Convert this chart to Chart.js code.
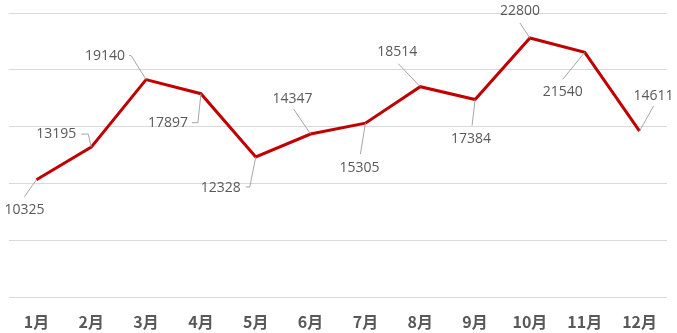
<!DOCTYPE html>
<html>
<head>
<meta charset="utf-8">
<script src="https://cdn.jsdelivr.net/npm/chart.js@4"></script>
<style>
    html, body { margin: 0; padding: 0; background: #fff; }
    #wrap { width: 677px; height: 333px; }
</style>
</head>
<body>
<div id="wrap"><canvas id="grafico"></canvas></div>
<script>
const meses = ['1月', '2月', '3月', '4月', '5月', '6月', '7月', '8月', '9月', '10月', '11月', '12月'];
const ventas = [10325, 13195, 19140, 17897, 12328, 14347, 15305, 18514, 17384, 22800, 21540, 14611];
const escalaY = { min: 0, max: 25000, paso: 5000 };

// posición de cada etiqueta respecto a su punto: [dx, dy, lineaX, lineaY, finX]
const etiquetas = [
    [-12, 30, -12, 17, null],
    [-35, -13, -3, -13, -10],
    [-41, -24, -15, -24, -17],
    [-33, 29, -3, 29, -9],
    [-35, 31, -6, 30, -10],
    [-18, -35, -17, -25, null],
    [-6, 45, -5, 31, null],
    [-23, -35, -22, -23, null],
    [-4, 39, -3, 26, null],
    [-10, -27, -10, -15, null],
    [-22, 40, -22, 27, null],
    [14, -35, 14, -25, null]
];

const pluginEtiquetas = {
    id: 'etiquetas',
    afterDatasetsDraw(chart) {
        const ctx = chart.ctx;
        const meta = chart.getDatasetMeta(0);
        ctx.save();
        ctx.font = '14px "Open Sans"';
        ctx.textAlign = 'center';
        ctx.textBaseline = 'middle';
        meta.data.forEach((p, i) => {
            const [dx, dy, lx, ly, hx] = etiquetas[i];
            ctx.strokeStyle = '#a6a6a6';
            ctx.lineWidth = 1;
            ctx.beginPath();
            ctx.moveTo(p.x, p.y);
            ctx.lineTo(p.x + lx, p.y + ly);
            if (hx !== null) ctx.lineTo(p.x + hx, p.y + ly);
            ctx.stroke();
            ctx.fillStyle = '#595959';
            ctx.fillText(String(ventas[i]), p.x + dx, p.y + dy);
        });
        ctx.restore();
    }
};

new Chart(document.getElementById('grafico').getContext('2d'), {
    type: 'line',
    data: {
        labels: meses,
        datasets: [{
            data: ventas,
            borderColor: '#c00000',
            borderWidth: 3,
            pointRadius: 0,
            tension: 0,
            fill: false
        }]
    },
    options: {
        responsive: true,
        maintainAspectRatio: false,
        animation: false,
        layout: { padding: { left: 9, right: 10, top: 13, bottom: 0 } },
        plugins: { legend: { display: false }, tooltip: { enabled: false } },
        scales: {
            x: {
                offset: true,
                grid: { display: false },
                border: { display: false },
                afterFit(scale) { scale.height = 36; },
                ticks: {
                    padding: 7,
                    maxRotation: 0,
                    color: '#595959',
                    font: { family: '"Noto Sans CJK SC"', size: 16, weight: 'bold' }
                }
            },
            y: {
                min: escalaY.min,
                max: escalaY.max,
                border: { display: false },
                grid: { color: '#d9d9d9', lineWidth: 1, drawTicks: false },
                ticks: { display: false, stepSize: escalaY.paso }
            }
        }
    },
    plugins: [pluginEtiquetas]
});
</script>
</body>
</html>
